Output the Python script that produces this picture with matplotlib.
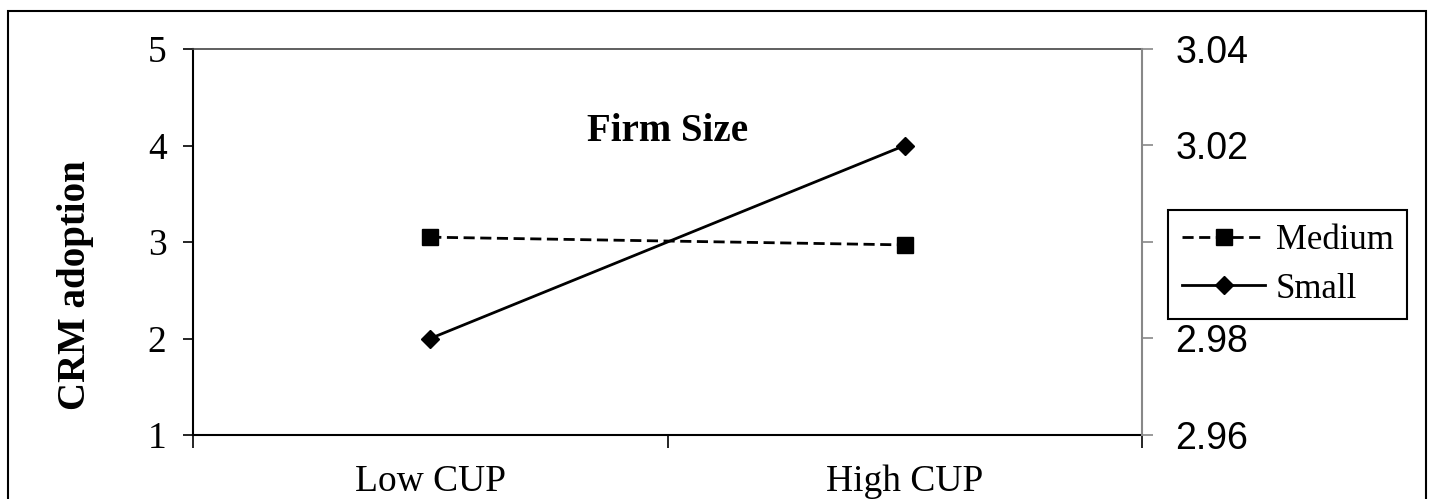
import matplotlib
matplotlib.use("Agg")
import matplotlib.pyplot as plt
import numpy as np
from matplotlib.patches import Rectangle
from matplotlib.ticker import FormatStrFormatter

plt.rcParams["font.family"] = "Liberation Serif"
plt.rcParams["font.size"] = 27

categories = ["Low CUP", "High CUP"]
medium = [3.05, 2.97]
small = [2.0, 4.0]
left_ticks = [1, 2, 3, 4, 5]
right_ticks = [2.96, 2.98, 3.00, 3.02, 3.04]

fig = plt.figure(figsize=[14.3, 4.99], dpi=100)
ax = fig.add_axes([193 / 1430, 1 - 435 / 499, (1142 - 193) / 1430, (435 - 49) / 499])

xs = np.arange(len(categories)) + 0.5
ax.plot(xs, medium, linestyle=(0, (4, 2)), color="black", linewidth=2,
        marker="s", markersize=11, label="Medium", zorder=3)
ax.plot(xs, small, linestyle="-", color="black", linewidth=2,
        marker="D", markersize=9, label="Small", zorder=3)

ax.set_xlim(0, len(categories))
ax.set_ylim(1, 5)
ax.set_yticks(left_ticks)
ax.set_xticks([0, 1, 2])
ax.set_xticklabels([])
ax.set_xticks(xs, minor=True)
ax.set_xticklabels(categories, minor=True)
ax.tick_params(axis="x", which="minor", length=0, pad=21)
ax.tick_params(axis="x", which="major", length=9, width=1.2, direction="out")
ax.tick_params(axis="y", length=7, width=1.2, pad=12)
ax.set_ylabel("CRM adoption", fontweight="bold", fontsize=28)
ax.yaxis.set_label_coords(-0.104, 0.389)

ax.spines["left"].set_linewidth(1.5)
ax.spines["bottom"].set_linewidth(1.5)
ax.spines["top"].set_color("#444444")
ax.spines["top"].set_linewidth(1.2)
ax.spines["right"].set_visible(False)

ax.text(1.0, 4.15, "Firm Size", ha="center", va="center", fontweight="bold", fontsize=28)

ax2 = ax.twinx()
ax2.set_ylim(2.96, 3.04)
ax2.set_yticks(right_ticks)
ax2.yaxis.set_major_formatter(FormatStrFormatter("%.2f"))
for lab in ax2.get_yticklabels():
    lab.set_family("Liberation Sans")
ax2.tick_params(axis="y", length=8, width=1.2, color="#888888", pad=16, labelsize=27)
for s in ["left", "top", "bottom"]:
    ax2.spines[s].set_visible(False)
ax2.spines["right"].set_color("#888888")
ax2.spines["right"].set_linewidth(1.5)

handles, labels = ax.get_legend_handles_labels()
leg = fig.legend(handles, labels, loc="upper left",
                 bbox_to_anchor=(1168 / 1430, 1 - 210 / 499),
                 borderaxespad=0, fontsize=25, frameon=True, fancybox=False,
                 edgecolor="black", framealpha=1, handlelength=2.4,
                 handletextpad=0.3, labelspacing=0.45, borderpad=0.4)
leg.get_frame().set_linewidth(1.5)

fig.patches.append(Rectangle((8 / 1430, -0.05), (1426 - 8) / 1430, 1 - 11 / 499 + 0.05,
                             transform=fig.transFigure, fill=False,
                             edgecolor="black", linewidth=1.5))

fig.savefig("out.png", dpi=100)
